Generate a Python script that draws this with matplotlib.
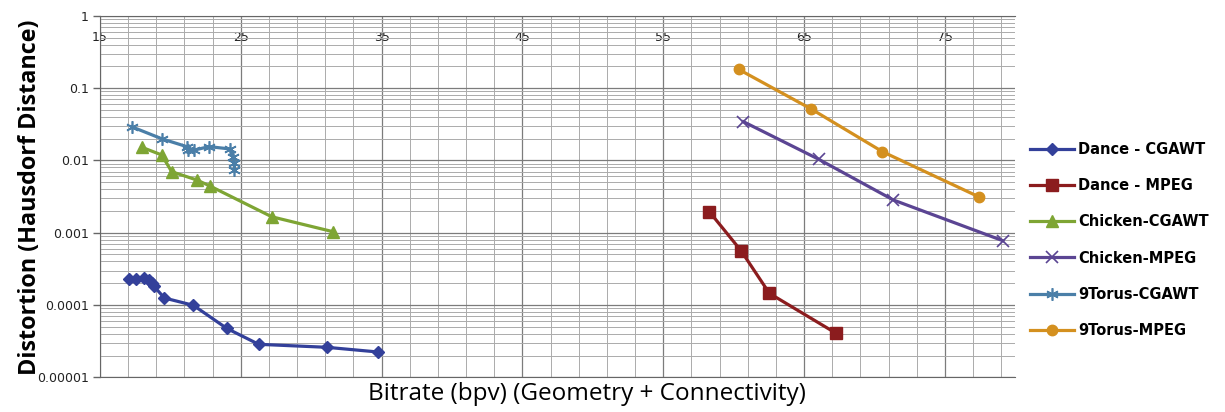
import numpy as np
import matplotlib.pyplot as plt
from matplotlib.ticker import FixedLocator, LogLocator, NullFormatter

# rate-distortion curves, bitrate in bpv, distortion as Hausdorff distance
dance_cgawt_x = [17.08, 17.56, 18.13, 18.46, 18.67, 18.84, 19.57, 21.63, 24.0, 26.27, 31.1, 34.72]
dance_cgawt_y = [2.28e-4, 2.27e-4, 2.33e-4, 2.2e-4, 1.99e-4, 1.81e-4, 1.25e-4, 9.9e-5, 4.75e-5, 2.86e-5, 2.6e-5, 2.24e-5]

dance_mpeg_x = [58.27, 60.53, 62.53, 67.27]
dance_mpeg_y = [1.95e-3, 5.6e-4, 1.45e-4, 4.06e-5]

chicken_cgawt_x = [17.96, 19.38, 20.09, 21.87, 22.81, 27.2, 31.57]
chicken_cgawt_y = [0.0152, 0.0119, 0.00698, 0.00536, 0.00442, 0.00166, 0.00103]

chicken_mpeg_x = [60.69, 66.02, 71.34, 79.11]
chicken_mpeg_y = [0.0343, 0.0104, 0.00283, 7.75e-4]

torus_cgawt_x = [17.25, 19.42, 21.16, 21.22, 21.7, 22.74, 24.23, 24.47, 24.54, 24.54]
torus_cgawt_y = [0.0292, 0.0198, 0.0155, 0.0139, 0.0139, 0.0155, 0.0144, 0.0113, 0.0091, 0.00736]

torus_mpeg_x = [60.34, 65.5, 70.56, 77.38]
torus_mpeg_y = [0.182, 0.0514, 0.0132, 0.00315]

fig = plt.figure(figsize=(12.25, 4.12), dpi=100)
ax = fig.add_axes([100/1225, 1-377.3/412, 915.4/1225, (377.3-15.8)/412])

lw = 2.3
ax.plot(dance_cgawt_x, dance_cgawt_y, color="#33409a", lw=lw, marker="D", ms=6.5, label="Dance - CGAWT")
ax.plot(dance_mpeg_x, dance_mpeg_y, color="#8b1c1e", lw=lw, marker="s", ms=8, label="Dance - MPEG")
ax.plot(chicken_cgawt_x, chicken_cgawt_y, color="#7ea534", lw=lw, marker="^", ms=8, label="Chicken-CGAWT")
ax.plot(chicken_mpeg_x, chicken_mpeg_y, color="#5b4593", lw=lw, marker="x", ms=8, mew=1.2, label="Chicken-MPEG")
ax.plot(torus_cgawt_x, torus_cgawt_y, color="#4b7fa8", lw=lw, marker=(6, 2, 0), ms=9, mew=1.2, label="9Torus-CGAWT")
ax.plot(torus_mpeg_x, torus_mpeg_y, color="#d4901f", lw=lw, marker="o", ms=7.5, label="9Torus-MPEG")

ax.set_yscale("log")
ax.set_xlim(15, 80)
ax.set_ylim(1e-5, 1)

# x axis: labels every 10 drawn just under the top edge, grid every 2
ax.xaxis.set_major_locator(FixedLocator([15, 25, 35, 45, 55, 65, 75]))
ax.xaxis.set_minor_locator(FixedLocator(np.arange(17, 80, 2)))
ax.xaxis.set_ticks_position("top")
ax.tick_params(axis="x", which="both", length=0, pad=-20, labelsize=9, colors="#222222")

ax.yaxis.set_major_locator(FixedLocator([1e-5, 1e-4, 1e-3, 1e-2, 1e-1, 1]))
ax.set_yticklabels(["0.00001", "0.0001", "0.001", "0.01", "0.1", "1"])
ax.yaxis.set_minor_locator(LogLocator(base=10, subs=np.arange(2, 10)))
ax.yaxis.set_minor_formatter(NullFormatter())
ax.tick_params(axis="y", which="major", length=5, width=1, color="#666666", labelsize=9, labelcolor="#222222", pad=3)
ax.tick_params(axis="y", which="minor", length=0)

ax.grid(True, which="major", color="#7c7c7c", lw=0.9)
ax.grid(True, which="minor", color="#ababab", lw=0.7)
ax.set_axisbelow(True)
ax.spines["right"].set_visible(False)
for side in ["left", "bottom", "top"]:
    ax.spines[side].set_color("#666666")

fig.text(30/1225, 1-197/412, "Distortion (Hausdorf Distance)", rotation=90, ha="center", va="center",
         fontsize=16.8, fontweight="bold", family="Open Sans")
fig.text(587/1225, 1-394/412, "Bitrate (bpv) (Geometry + Connectivity)", ha="center", va="center",
         fontsize=17.5, family="Open Sans")

fig.legend(loc="center left", bbox_to_anchor=(1017/1225, 1-240/412), frameon=False,
           prop={"family": "DejaVu Sans", "weight": "bold", "size": 10.5},
           handlelength=3, handletextpad=0.3, labelspacing=1.45)

fig.savefig("out.png", dpi=100)
